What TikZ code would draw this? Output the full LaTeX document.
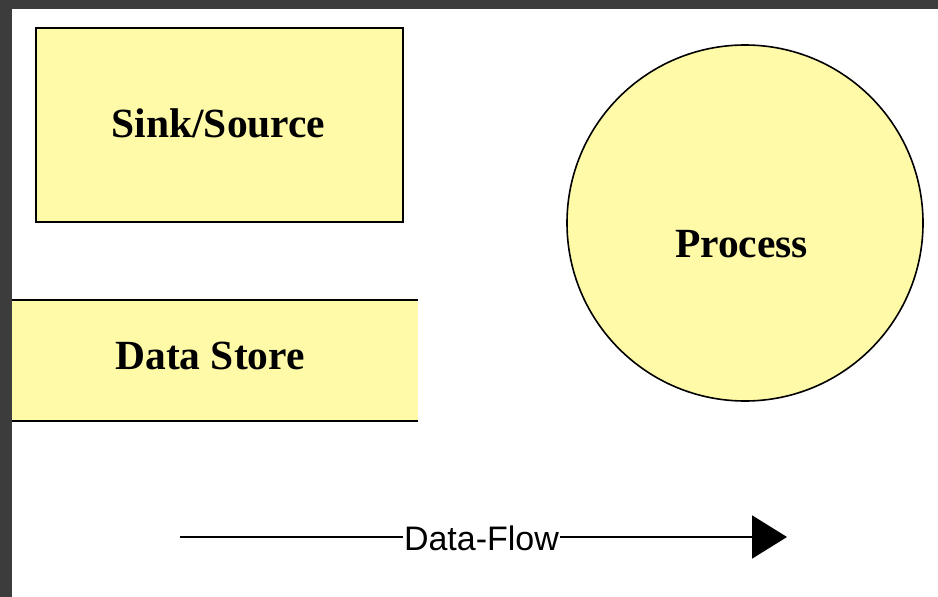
\documentclass[tikz,border=0pt]{standalone}
\usepackage{fontspec}
\setmainfont{Liberation Serif}
\newfontfamily\arialfont{Liberation Sans}
\usetikzlibrary{arrows.meta}
\definecolor{dfdyellow}{HTML}{FFFAA8}
\definecolor{frame}{HTML}{3C3C3C}
\tikzset{
  shapefill/.style={fill=dfdyellow, inner sep=0pt},
  edgeline/.style={draw=black, line width=2pt},
  bigtext/.style={font=\fontsize{41.5}{48}\selectfont\bfseries, anchor=base, inner sep=0pt},
  flowtext/.style={font=\arialfont\fontsize{34}{40}\selectfont, anchor=base, fill=white, inner xsep=1pt, inner ysep=2pt}
}
\begin{document}
\begin{tikzpicture}[x=1pt,y=-1pt]
\useasboundingbox (0,0) rectangle (938,597);
\fill[white] (0,0) rectangle (938,597);
\fill[frame] (0,0) rectangle (938,9);
\fill[frame] (0,0) rectangle (12,597);
% Sink/Source
\node[shapefill, edgeline, minimum width=367pt, minimum height=194pt] (sink) at (219.5,125) {};
\node[bigtext] (sinklabel) at (218.5,137) {Sink/Source};
% Data store
\node[shapefill, minimum width=406pt, minimum height=121pt] (store) at (215,360.5) {};
\draw[line width=2pt] (store.north west) -- (store.north east);
\draw[line width=2pt] (store.south west) -- (store.south east);
\node[bigtext] (storelabel) at (210,369) {Data Store};
% Process
\node[shapefill, circle, draw=black, line width=1.6pt, minimum size=356pt] (process) at (745,223) {};
\node[bigtext] (processlabel) at (741.5,257) {Process};
% Data flow
\coordinate (fs) at (180,537);
\coordinate (fe) at (787,537);
\draw[line width=2pt, -{Triangle[length=35pt,width=43pt]}] (fs) -- (fe);
\node[flowtext] (flowlabel) at (481.5,550) {Data-Flow};
\end{tikzpicture}
\end{document}
